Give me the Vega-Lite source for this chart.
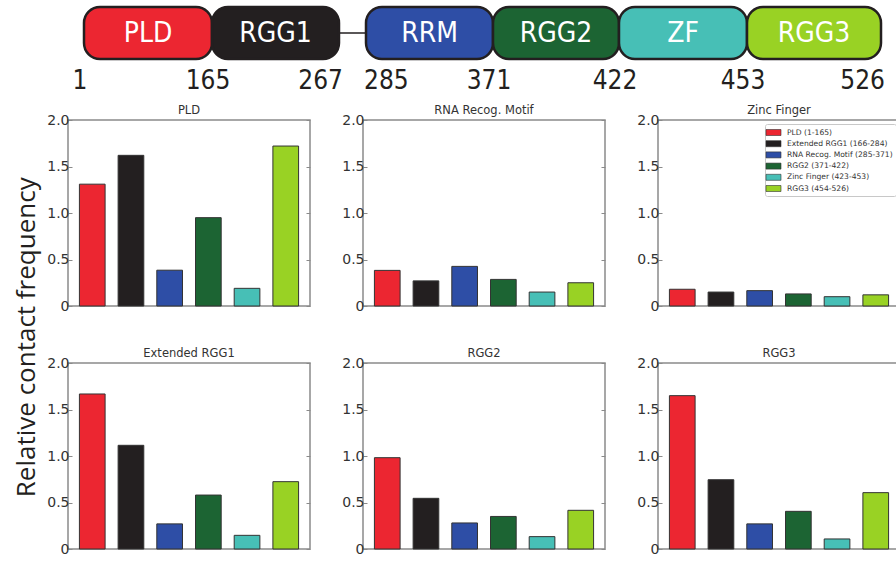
{
  "$schema": "https://vega.github.io/schema/vega-lite/v6.json",
  "padding": {"left": 13, "top": 0, "right": 0, "bottom": 0},
  "background": "white",
  "datasets": {
    "bars": [
      {"panel": "PLD", "target": "PLD (1-165)", "value": 1.31},
      {"panel": "PLD", "target": "Extended RGG1 (166-284)", "value": 1.62},
      {"panel": "PLD", "target": "RNA Recog. Motif (285-371)", "value": 0.385},
      {"panel": "PLD", "target": "RGG2 (371-422)", "value": 0.95},
      {"panel": "PLD", "target": "Zinc Finger (423-453)", "value": 0.19},
      {"panel": "PLD", "target": "RGG3 (454-526)", "value": 1.72},
      {"panel": "RNA Recog. Motif", "target": "PLD (1-165)", "value": 0.383},
      {"panel": "RNA Recog. Motif", "target": "Extended RGG1 (166-284)", "value": 0.27},
      {"panel": "RNA Recog. Motif", "target": "RNA Recog. Motif (285-371)", "value": 0.426},
      {"panel": "RNA Recog. Motif", "target": "RGG2 (371-422)", "value": 0.286},
      {"panel": "RNA Recog. Motif", "target": "Zinc Finger (423-453)", "value": 0.15},
      {"panel": "RNA Recog. Motif", "target": "RGG3 (454-526)", "value": 0.25},
      {"panel": "Zinc Finger", "target": "PLD (1-165)", "value": 0.18},
      {"panel": "Zinc Finger", "target": "Extended RGG1 (166-284)", "value": 0.15},
      {"panel": "Zinc Finger", "target": "RNA Recog. Motif (285-371)", "value": 0.165},
      {"panel": "Zinc Finger", "target": "RGG2 (371-422)", "value": 0.13},
      {"panel": "Zinc Finger", "target": "Zinc Finger (423-453)", "value": 0.1},
      {"panel": "Zinc Finger", "target": "RGG3 (454-526)", "value": 0.12},
      {"panel": "Extended RGG1", "target": "PLD (1-165)", "value": 1.667},
      {"panel": "Extended RGG1", "target": "Extended RGG1 (166-284)", "value": 1.115},
      {"panel": "Extended RGG1", "target": "RNA Recog. Motif (285-371)", "value": 0.27},
      {"panel": "Extended RGG1", "target": "RGG2 (371-422)", "value": 0.58},
      {"panel": "Extended RGG1", "target": "Zinc Finger (423-453)", "value": 0.147},
      {"panel": "Extended RGG1", "target": "RGG3 (454-526)", "value": 0.724},
      {"panel": "RGG2", "target": "PLD (1-165)", "value": 0.982},
      {"panel": "RGG2", "target": "Extended RGG1 (166-284)", "value": 0.545},
      {"panel": "RGG2", "target": "RNA Recog. Motif (285-371)", "value": 0.28},
      {"panel": "RGG2", "target": "RGG2 (371-422)", "value": 0.35},
      {"panel": "RGG2", "target": "Zinc Finger (423-453)", "value": 0.133},
      {"panel": "RGG2", "target": "RGG3 (454-526)", "value": 0.416},
      {"panel": "RGG3", "target": "PLD (1-165)", "value": 1.649},
      {"panel": "RGG3", "target": "Extended RGG1 (166-284)", "value": 0.745},
      {"panel": "RGG3", "target": "RNA Recog. Motif (285-371)", "value": 0.27},
      {"panel": "RGG3", "target": "RGG2 (371-422)", "value": 0.405},
      {"panel": "RGG3", "target": "Zinc Finger (423-453)", "value": 0.108},
      {"panel": "RGG3", "target": "RGG3 (454-526)", "value": 0.606}
    ],
    "domains": [
      {"region": "PLD (1-165)", "label": "PLD", "start": 1, "end": 165},
      {"region": "Extended RGG1 (166-284)", "label": "RGG1", "start": 165, "end": 267},
      {"region": "RNA Recog. Motif (285-371)", "label": "RRM", "start": 285, "end": 371},
      {"region": "RGG2 (371-422)", "label": "RGG2", "start": 371, "end": 422},
      {"region": "Zinc Finger (423-453)", "label": "ZF", "start": 422, "end": 453},
      {"region": "RGG3 (454-526)", "label": "RGG3", "start": 453, "end": 526}
    ],
    "linker": [{"from": 267, "to": 285}],
    "boundaries": [
      {"residue": 1}, {"residue": 165}, {"residue": 267}, {"residue": 285},
      {"residue": 371}, {"residue": 422}, {"residue": 453}, {"residue": 526}
    ]
  },
  "config": {
    "view": {"stroke": "#8a8a8a", "strokeWidth": 1.5},
    "range": {"category": ["#ec2631", "#231f20", "#2e4ea6", "#1c6433", "#47bfb6", "#99d224"]},
    "axisY": {
      "domain": false, "grid": false,
      "labelFont": "DejaVu Sans", "labelFontSize": 14, "labelColor": "#333",
      "tickColor": "#8a8a8a", "tickSize": -4, "tickWidth": 1, "tickCount": 4,
      "labelPadding": 3,
      "labelExpr": "datum.value == 0 ? '0' : format(datum.value, '.1f')"
    },
    "title": {"font": "DejaVu Sans", "fontSize": 11.5, "fontWeight": "normal", "color": "#333", "offset": -3},
    "legend": {
      "orient": "top-right", "offset": 4, "title": null,
      "labelFont": "DejaVu Sans", "labelFontSize": 7.6, "labelColor": "#333",
      "symbolType": "M-1.5,-0.6H1.5V0.6H-1.5Z", "symbolSize": 100,
      "symbolStrokeColor": "#333", "symbolStrokeWidth": 0.6,
      "rowPadding": 1.2, "padding": 3, "labelOffset": 8,
      "strokeColor": "#c8c8c8", "fillColor": "white", "cornerRadius": 2
    }
  },
  "resolve": {"legend": {"color": "independent"}},
  "spacing": 9,
  "vconcat": [
    {
      "width": 829,
      "height": 90,
      "view": {"stroke": null},
      "layer": [
        {
          "data": {"name": "linker"},
          "mark": {"type": "rule", "color": "#231f20", "strokeWidth": 1.5},
          "encoding": {
            "x": {"field": "from", "type": "quantitative", "axis": null,
                  "scale": {"domain": [1, 165, 267, 285, 371, 422, 453, 526], "range": [16, 144, 271, 298, 425, 551, 679, 813], "nice": false, "zero": false}},
            "x2": {"field": "to"},
            "y": {"datum": "box", "type": "nominal", "axis": null, "bandPosition": 0.5,
                  "scale": {"type": "band", "domain": ["box", "num"], "range": [7, 111], "paddingInner": 0, "paddingOuter": 0}}
          }
        },
        {
          "data": {"name": "domains"},
          "mark": {"type": "rect", "stroke": "#231f20", "strokeWidth": 2.5, "cornerRadius": 16},
          "encoding": {
            "x": {"field": "start", "type": "quantitative", "axis": null},
            "x2": {"field": "end"},
            "y": {"datum": "box", "type": "nominal", "axis": null},
            "fill": {"field": "region", "type": "nominal", "legend": null,
                     "scale": {"domain": ["PLD (1-165)", "Extended RGG1 (166-284)", "RNA Recog. Motif (285-371)", "RGG2 (371-422)", "Zinc Finger (423-453)", "RGG3 (454-526)"]}}
          }
        },
        {
          "data": {"name": "domains"},
          "transform": [{"fold": ["start", "end"], "as": ["edge", "residue"]}],
          "mark": {"type": "text", "color": "white", "fontSize": 28, "font": "DejaVu Sans Condensed, Liberation Sans Narrow, sans-serif", "baseline": "middle", "dy": 1},
          "encoding": {
            "x": {"field": "residue", "type": "quantitative", "aggregate": "mean", "axis": null},
            "y": {"datum": "box", "type": "nominal", "axis": null, "bandPosition": 0.5},
            "text": {"field": "label", "type": "nominal"}
          }
        },
        {
          "data": {"name": "boundaries"},
          "transform": [{"filter": "datum.residue != 267 && datum.residue != 285 && datum.residue != 526"}],
          "mark": {"type": "text", "color": "#231f20", "fontSize": 26, "font": "DejaVu Sans Condensed, Liberation Sans Narrow, sans-serif", "baseline": "top", "align": "center", "dy": 9, "dx": -4},
          "encoding": {
            "x": {"field": "residue", "type": "quantitative", "axis": null},
            "y": {"datum": "num", "type": "nominal", "axis": null, "bandPosition": 0},
            "text": {"field": "residue", "type": "quantitative", "format": "d"}
          }
        },
        {
          "data": {"name": "boundaries"},
          "transform": [{"filter": "datum.residue == 267 || datum.residue == 526"}],
          "mark": {"type": "text", "color": "#231f20", "fontSize": 26, "font": "DejaVu Sans Condensed, Liberation Sans Narrow, sans-serif", "baseline": "top", "align": "right", "dy": 9, "dx": 4},
          "encoding": {
            "x": {"field": "residue", "type": "quantitative", "axis": null},
            "y": {"datum": "num", "type": "nominal", "axis": null, "bandPosition": 0},
            "text": {"field": "residue", "type": "quantitative", "format": "d"}
          }
        },
        {
          "data": {"name": "boundaries"},
          "transform": [{"filter": "datum.residue == 285"}],
          "mark": {"type": "text", "color": "#231f20", "fontSize": 26, "font": "DejaVu Sans Condensed, Liberation Sans Narrow, sans-serif", "baseline": "top", "align": "left", "dy": 9, "dx": -2},
          "encoding": {
            "x": {"field": "residue", "type": "quantitative", "axis": null},
            "y": {"datum": "num", "type": "nominal", "axis": null, "bandPosition": 0},
            "text": {"field": "residue", "type": "quantitative", "format": "d"}
          }
        }
      ]
    },
    {
      "title": {"text": "Relative contact frequency", "orient": "left", "anchor": "middle", "font": "Open Sans", "fontSize": 26, "fontWeight": "normal", "color": "#231f20", "offset": 6, "dx": -7},
      "spacing": 32,
      "resolve": {"legend": {"color": "independent"}},
      "vconcat": [
        {
          "spacing": 28,
          "resolve": {"legend": {"color": "independent"}},
          "hconcat": [
            {
              "width": 242, "height": 186, "title": "PLD",
              "data": {"name": "bars"},
              "transform": [{"filter": "datum.panel === 'PLD'"}],
              "layer": [
                {"mark": {"type": "bar", "stroke": "#333", "strokeWidth": 1},
                 "encoding": {
                   "x": {"field": "target", "type": "nominal", "sort": null, "scale": {"paddingInner": 0.336, "paddingOuter": 0.295}, "axis": null},
                   "y": {"field": "value", "type": "quantitative", "scale": {"domain": [0, 2]}, "axis": {"orient": "left"}, "title": null},
                   "color": {"field": "target", "type": "nominal", "legend": null,
                             "scale": {"domain": ["PLD (1-165)", "Extended RGG1 (166-284)", "RNA Recog. Motif (285-371)", "RGG2 (371-422)", "Zinc Finger (423-453)", "RGG3 (454-526)"]}}}},
                {"mark": {"type": "point", "opacity": 0},
                 "encoding": {"y": {"field": "value", "type": "quantitative", "axis": {"orient": "right", "labels": false}, "title": null}}}
              ],
              "resolve": {"axis": {"y": "independent"}}
            },
            {
              "width": 242, "height": 186, "title": "RNA Recog. Motif",
              "data": {"name": "bars"},
              "transform": [{"filter": "datum.panel === 'RNA Recog. Motif'"}],
              "layer": [
                {"mark": {"type": "bar", "stroke": "#333", "strokeWidth": 1},
                 "encoding": {
                   "x": {"field": "target", "type": "nominal", "sort": null, "scale": {"paddingInner": 0.336, "paddingOuter": 0.295}, "axis": null},
                   "y": {"field": "value", "type": "quantitative", "scale": {"domain": [0, 2]}, "axis": {"orient": "left"}, "title": null},
                   "color": {"field": "target", "type": "nominal", "legend": null,
                             "scale": {"domain": ["PLD (1-165)", "Extended RGG1 (166-284)", "RNA Recog. Motif (285-371)", "RGG2 (371-422)", "Zinc Finger (423-453)", "RGG3 (454-526)"]}}}},
                {"mark": {"type": "point", "opacity": 0},
                 "encoding": {"y": {"field": "value", "type": "quantitative", "axis": {"orient": "right", "labels": false}, "title": null}}}
              ],
              "resolve": {"axis": {"y": "independent"}}
            },
            {
              "width": 242, "height": 186, "title": "Zinc Finger",
              "data": {"name": "bars"},
              "transform": [{"filter": "datum.panel === 'Zinc Finger'"}],
              "layer": [
                {"mark": {"type": "bar", "stroke": "#333", "strokeWidth": 1},
                 "encoding": {
                   "x": {"field": "target", "type": "nominal", "sort": null, "scale": {"paddingInner": 0.336, "paddingOuter": 0.295}, "axis": null},
                   "y": {"field": "value", "type": "quantitative", "scale": {"domain": [0, 2]}, "axis": {"orient": "left"}, "title": null},
                   "color": {"field": "target", "type": "nominal", "legend": {"orient": "top-right"},
                             "scale": {"domain": ["PLD (1-165)", "Extended RGG1 (166-284)", "RNA Recog. Motif (285-371)", "RGG2 (371-422)", "Zinc Finger (423-453)", "RGG3 (454-526)"]}}}},
                {"mark": {"type": "point", "opacity": 0},
                 "encoding": {"y": {"field": "value", "type": "quantitative", "axis": {"orient": "right", "labels": false}, "title": null}}}
              ],
              "resolve": {"axis": {"y": "independent"}}
            }
          ]
        },
        {
          "spacing": 28,
          "resolve": {"legend": {"color": "independent"}},
          "hconcat": [
            {
              "width": 242, "height": 186, "title": "Extended RGG1",
              "data": {"name": "bars"},
              "transform": [{"filter": "datum.panel === 'Extended RGG1'"}],
              "layer": [
                {"mark": {"type": "bar", "stroke": "#333", "strokeWidth": 1},
                 "encoding": {
                   "x": {"field": "target", "type": "nominal", "sort": null, "scale": {"paddingInner": 0.336, "paddingOuter": 0.295}, "axis": null},
                   "y": {"field": "value", "type": "quantitative", "scale": {"domain": [0, 2]}, "axis": {"orient": "left"}, "title": null},
                   "color": {"field": "target", "type": "nominal", "legend": null,
                             "scale": {"domain": ["PLD (1-165)", "Extended RGG1 (166-284)", "RNA Recog. Motif (285-371)", "RGG2 (371-422)", "Zinc Finger (423-453)", "RGG3 (454-526)"]}}}},
                {"mark": {"type": "point", "opacity": 0},
                 "encoding": {"y": {"field": "value", "type": "quantitative", "axis": {"orient": "right", "labels": false}, "title": null}}}
              ],
              "resolve": {"axis": {"y": "independent"}}
            },
            {
              "width": 242, "height": 186, "title": "RGG2",
              "data": {"name": "bars"},
              "transform": [{"filter": "datum.panel === 'RGG2'"}],
              "layer": [
                {"mark": {"type": "bar", "stroke": "#333", "strokeWidth": 1},
                 "encoding": {
                   "x": {"field": "target", "type": "nominal", "sort": null, "scale": {"paddingInner": 0.336, "paddingOuter": 0.295}, "axis": null},
                   "y": {"field": "value", "type": "quantitative", "scale": {"domain": [0, 2]}, "axis": {"orient": "left"}, "title": null},
                   "color": {"field": "target", "type": "nominal", "legend": null,
                             "scale": {"domain": ["PLD (1-165)", "Extended RGG1 (166-284)", "RNA Recog. Motif (285-371)", "RGG2 (371-422)", "Zinc Finger (423-453)", "RGG3 (454-526)"]}}}},
                {"mark": {"type": "point", "opacity": 0},
                 "encoding": {"y": {"field": "value", "type": "quantitative", "axis": {"orient": "right", "labels": false}, "title": null}}}
              ],
              "resolve": {"axis": {"y": "independent"}}
            },
            {
              "width": 242, "height": 186, "title": "RGG3",
              "data": {"name": "bars"},
              "transform": [{"filter": "datum.panel === 'RGG3'"}],
              "layer": [
                {"mark": {"type": "bar", "stroke": "#333", "strokeWidth": 1},
                 "encoding": {
                   "x": {"field": "target", "type": "nominal", "sort": null, "scale": {"paddingInner": 0.336, "paddingOuter": 0.295}, "axis": null},
                   "y": {"field": "value", "type": "quantitative", "scale": {"domain": [0, 2]}, "axis": {"orient": "left"}, "title": null},
                   "color": {"field": "target", "type": "nominal", "legend": null,
                             "scale": {"domain": ["PLD (1-165)", "Extended RGG1 (166-284)", "RNA Recog. Motif (285-371)", "RGG2 (371-422)", "Zinc Finger (423-453)", "RGG3 (454-526)"]}}}},
                {"mark": {"type": "point", "opacity": 0},
                 "encoding": {"y": {"field": "value", "type": "quantitative", "axis": {"orient": "right", "labels": false}, "title": null}}}
              ],
              "resolve": {"axis": {"y": "independent"}}
            }
          ]
        }
      ]
    }
  ]
}
